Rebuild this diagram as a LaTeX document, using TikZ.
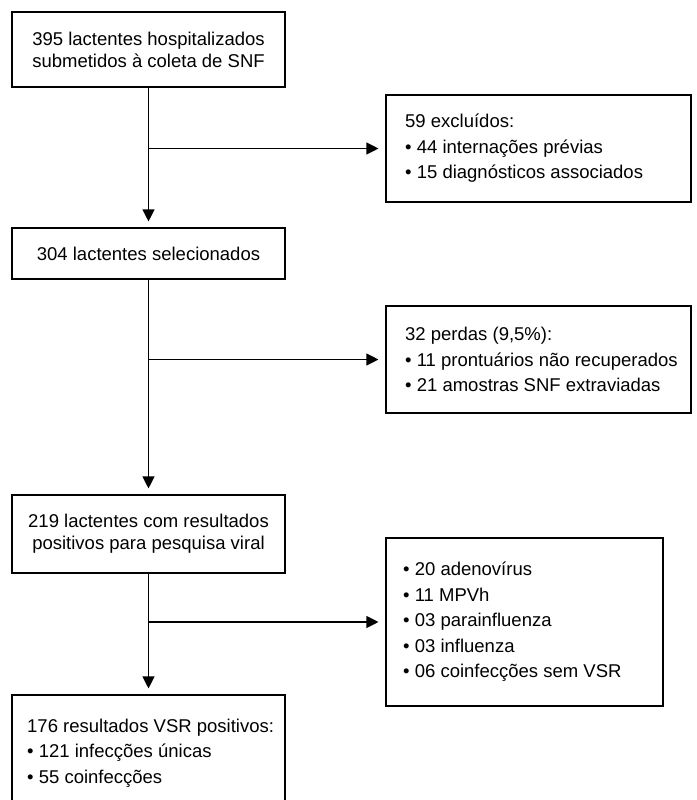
\documentclass[tikz,border=0pt]{standalone}
\usepackage{fontspec}
\setmainfont{Liberation Sans}
\usetikzlibrary{arrows.meta}
\begin{document}
\begin{tikzpicture}[x=1pt,y=-1pt,
  frame/.style={draw, line width=1.1pt, inner sep=0pt, rectangle},
  ctext/.style={frame, align=center, font=\fontsize{18.5}{22}\selectfont},
  ltext/.style={inner sep=0pt, align=left, font=\fontsize{18.5}{25.5}\selectfont, anchor=west},
  arr/.style={line width=1.1pt, -{Triangle[length=12pt,width=12pt]}}]
\useasboundingbox (0,0) rectangle (696,800);
\clip (0,0) rectangle (696,800);
% left column
\node[ctext, minimum width=273pt, minimum height=75pt] (b1) at (148.5,49.5) {395 lactentes hospitalizados\\submetidos à coleta de SNF};
\node[ctext, minimum width=273pt, minimum height=51pt] (b2) at (148.5,253.5) {304 lactentes selecionados};
\node[ctext, minimum width=273pt, minimum height=78pt] (b3) at (148.5,534) {219 lactentes com resultados\\positivos para pesquisa viral};
\node[frame, minimum width=273pt, minimum height=116pt] (b4) at (148.5,753) {};
\node[ltext] (t4) at (27,753) {176 resultados VSR positivos:\\• 121 infecções únicas\\• 55 coinfecções};
% right column
\node[frame, minimum width=305pt, minimum height=107pt] (eA) at (538.5,148.5) {};
\node[ltext] (tA) at (405,148.5) {59 excluídos:\\• 44 internações prévias\\• 15 diagnósticos associados};
\node[frame, minimum width=305pt, minimum height=107pt] (eB) at (538.5,359.5) {};
\node[ltext] (tB) at (405,359.5) {32 perdas (9,5\%):\\• 11 prontuários não recuperados\\• 21 amostras SNF extraviadas};
\node[frame, minimum width=277pt, minimum height=168pt] (eC) at (524.5,622) {};
\node[ltext] (tC) at (403,622) {• 20 adenovírus\\• 11 MPVh\\• 03 parainfluenza\\• 03 influenza\\• 06 coinfecções sem VSR};
% connectors
\draw[arr, shorten >=6pt] (b1) -- (b2);
\draw[arr, shorten >=6pt] (b2) -- (b3);
\draw[arr, shorten >=6pt] (b3) -- (b4);
\draw[arr, shorten >=7pt] (b1.south |- eA.west) -- (eA.west);
\draw[arr, shorten >=7pt] (b2.south |- eB.west) -- (eB.west);
\draw[arr, shorten >=7pt] (b3.south |- eC.west) -- (eC.west);
\end{tikzpicture}
\end{document}
